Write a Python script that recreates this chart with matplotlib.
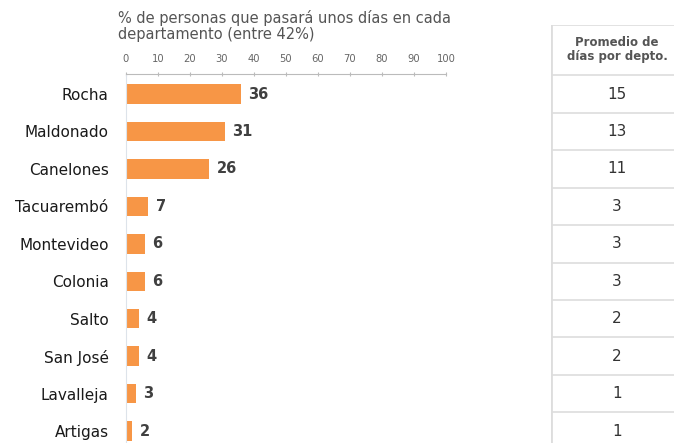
import matplotlib.pyplot as plt

departamentos = ["Rocha", "Maldonado", "Canelones", "Tacuarembó", "Montevideo",
                 "Colonia", "Salto", "San José", "Lavalleja", "Artigas"]
porcentaje = [36, 31, 26, 7, 6, 6, 4, 4, 3, 2]
promedio_dias = [15, 13, 11, 3, 3, 3, 2, 2, 1, 1]
xticks = list(range(0, 101, 10))

titulo = "% de personas que pasará unos días en cada\ndepartamento (entre 42%)"
cabecera_tabla = "Promedio de\ndías por depto."


def plot() -> plt.Figure:
    fig = plt.figure(figsize=(6.74, 4.43), dpi=100)
    W, H = 674, 443

    # bar chart
    ax = fig.add_axes([126 / W, 0, 320 / W, 1 - 74 / H])
    y = range(len(departamentos))
    ax.barh(y, porcentaje, height=0.52, color="#F79646")
    for yi, v in zip(y, porcentaje):
        ax.text(v + 2.3, yi, str(v), va="center", ha="left",
                fontsize=10.5, fontweight="bold", color="#404040")
    ax.set_ylim(9.32, -0.535)
    ax.set_xlim(0, 100)
    ax.set_yticks(list(y))
    ax.set_yticklabels(departamentos, fontsize=11, color="#1a1a1a")
    ax.tick_params(axis="y", length=0, pad=12.5)
    ax.xaxis.tick_top()
    ax.set_xticks(xticks)
    ax.tick_params(axis="x", labelsize=7.2, colors="#bbbbbb", labelcolor="#666666",
                   length=3, direction="inout", pad=6)
    ax.spines[["right", "bottom"]].set_visible(False)
    ax.spines["top"].set_color("#bbbbbb")
    ax.spines["left"].set_color("#dde3ea")

    fig.text(118 / W, 1 - 10 / H, titulo, ha="left", va="top",
             fontsize=10.5, color="#555555", linespacing=1.05)

    # side table
    tx = fig.add_axes([551 / W, 0, 132 / W, 1 - 25 / H])
    tx.set_xlim(0, 1)
    tx.set_ylim(9.32, -1.843)
    tx.axis("off")
    tx.axvline(0, color="#dddddd", lw=2)
    tx.axhline(-1.843, color="#dddddd", lw=1.2)
    for k in range(-1, 9):
        tx.axhline(k + 0.5, color="#dddddd", lw=1.2)
    tx.text(0.5, -1.18, cabecera_tabla, ha="center", va="center",
            fontsize=8.5, fontweight="bold", color="#555555", linespacing=1.1)
    for yi, d in zip(y, promedio_dias):
        tx.text(0.5, yi, str(d), ha="center", va="center",
                fontsize=11, color="#333333")

    return fig


def main():
    fig = plot()
    fig.savefig("out.png", dpi=100)


if __name__ == "__main__":
    main()
